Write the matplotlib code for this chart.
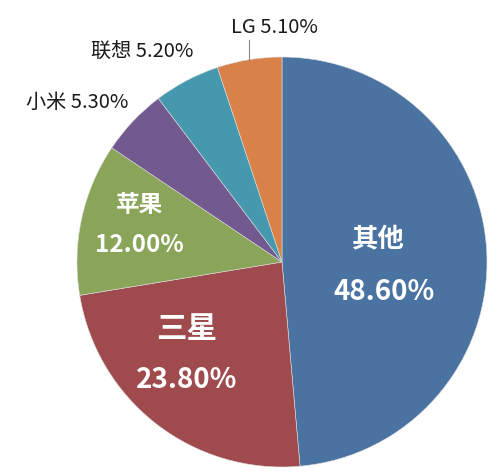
import matplotlib
matplotlib.use("Agg")
import matplotlib.pyplot as plt
import numpy as np

plt.rcParams['font.family'] = ['Noto Sans CJK SC', 'DejaVu Sans']

brands = ["其他", "三星", "苹果", "小米", "联想", "LG"]
shares = [48.6, 23.8, 12.0, 5.3, 5.2, 5.1]
colors = ["#4a73a2", "#9f4a4c", "#8aa55a", "#72598f", "#4698ae", "#d8824a"]

fig = plt.figure(figsize=(5.01, 4.74), dpi=100)
# pie centre about (282, 262) px, radius about 205 px
ax = fig.add_axes([77/501, 7/474, 410/501, 410/474])
wedges, _ = ax.pie(shares, colors=colors, startangle=90, counterclock=False,
                   radius=1.0, wedgeprops=dict(edgecolor="#dddddd", linewidth=0.4))
ax.set_xlim(-1, 1)
ax.set_ylim(-1, 1)
ax.set_aspect("equal")
ax.axis("off")

def mid(i):
    w = wedges[i]
    return np.deg2rad((w.theta1 + w.theta2) / 2)

# labels inside the big slices: radius, dx, name dy, value dy, name size, value size
inner = {0: (0.47, 0.0, 0.09, -0.165, 19, 20),
         1: (0.72, -0.025, 0.24, -0.006, 22, 20),
         2: (0.71, 0.0, 0.128, -0.067, 17, 17.5)}
for i, (r, dx, dn, dv, fn, fv) in inner.items():
    a = mid(i)
    x, y = r * np.cos(a) + dx, r * np.sin(a)
    ax.text(x, y + dn, brands[i], ha="center", va="center", color="white",
            fontsize=fn, fontweight="bold")
    ax.text(x + (0.03 if i == 0 else 0), y + dv, f"{shares[i]:.2f}%", ha="center",
            va="center", color="white", fontsize=fv, fontweight="bold")

# small slices outside
a = mid(3)
ax.text(1.1 * np.cos(a) + 0.05, 1.1 * np.sin(a) + 0.025, f"{brands[3]} {shares[3]:.2f}%",
        ha="right", va="center", fontsize=14.5, color="#1a1a1a")
a = mid(4)
ax.text(1.12 * np.cos(a) + 0.09, 1.12 * np.sin(a) + 0.035, f"{brands[4]} {shares[4]:.2f}%",
        ha="right", va="center", fontsize=14.5, color="#1a1a1a")
a = mid(5)
ex, ey = np.cos(a), np.sin(a)
ax.plot([ex, ex], [ey, 1.085], color="#888888", lw=0.8, clip_on=False)
ax.text(-0.035, 1.145, f"{brands[5]} {shares[5]:.2f}%", ha="center", va="center",
        fontsize=14.5, color="#1a1a1a", clip_on=False)

fig.savefig("out.png", dpi=100)
